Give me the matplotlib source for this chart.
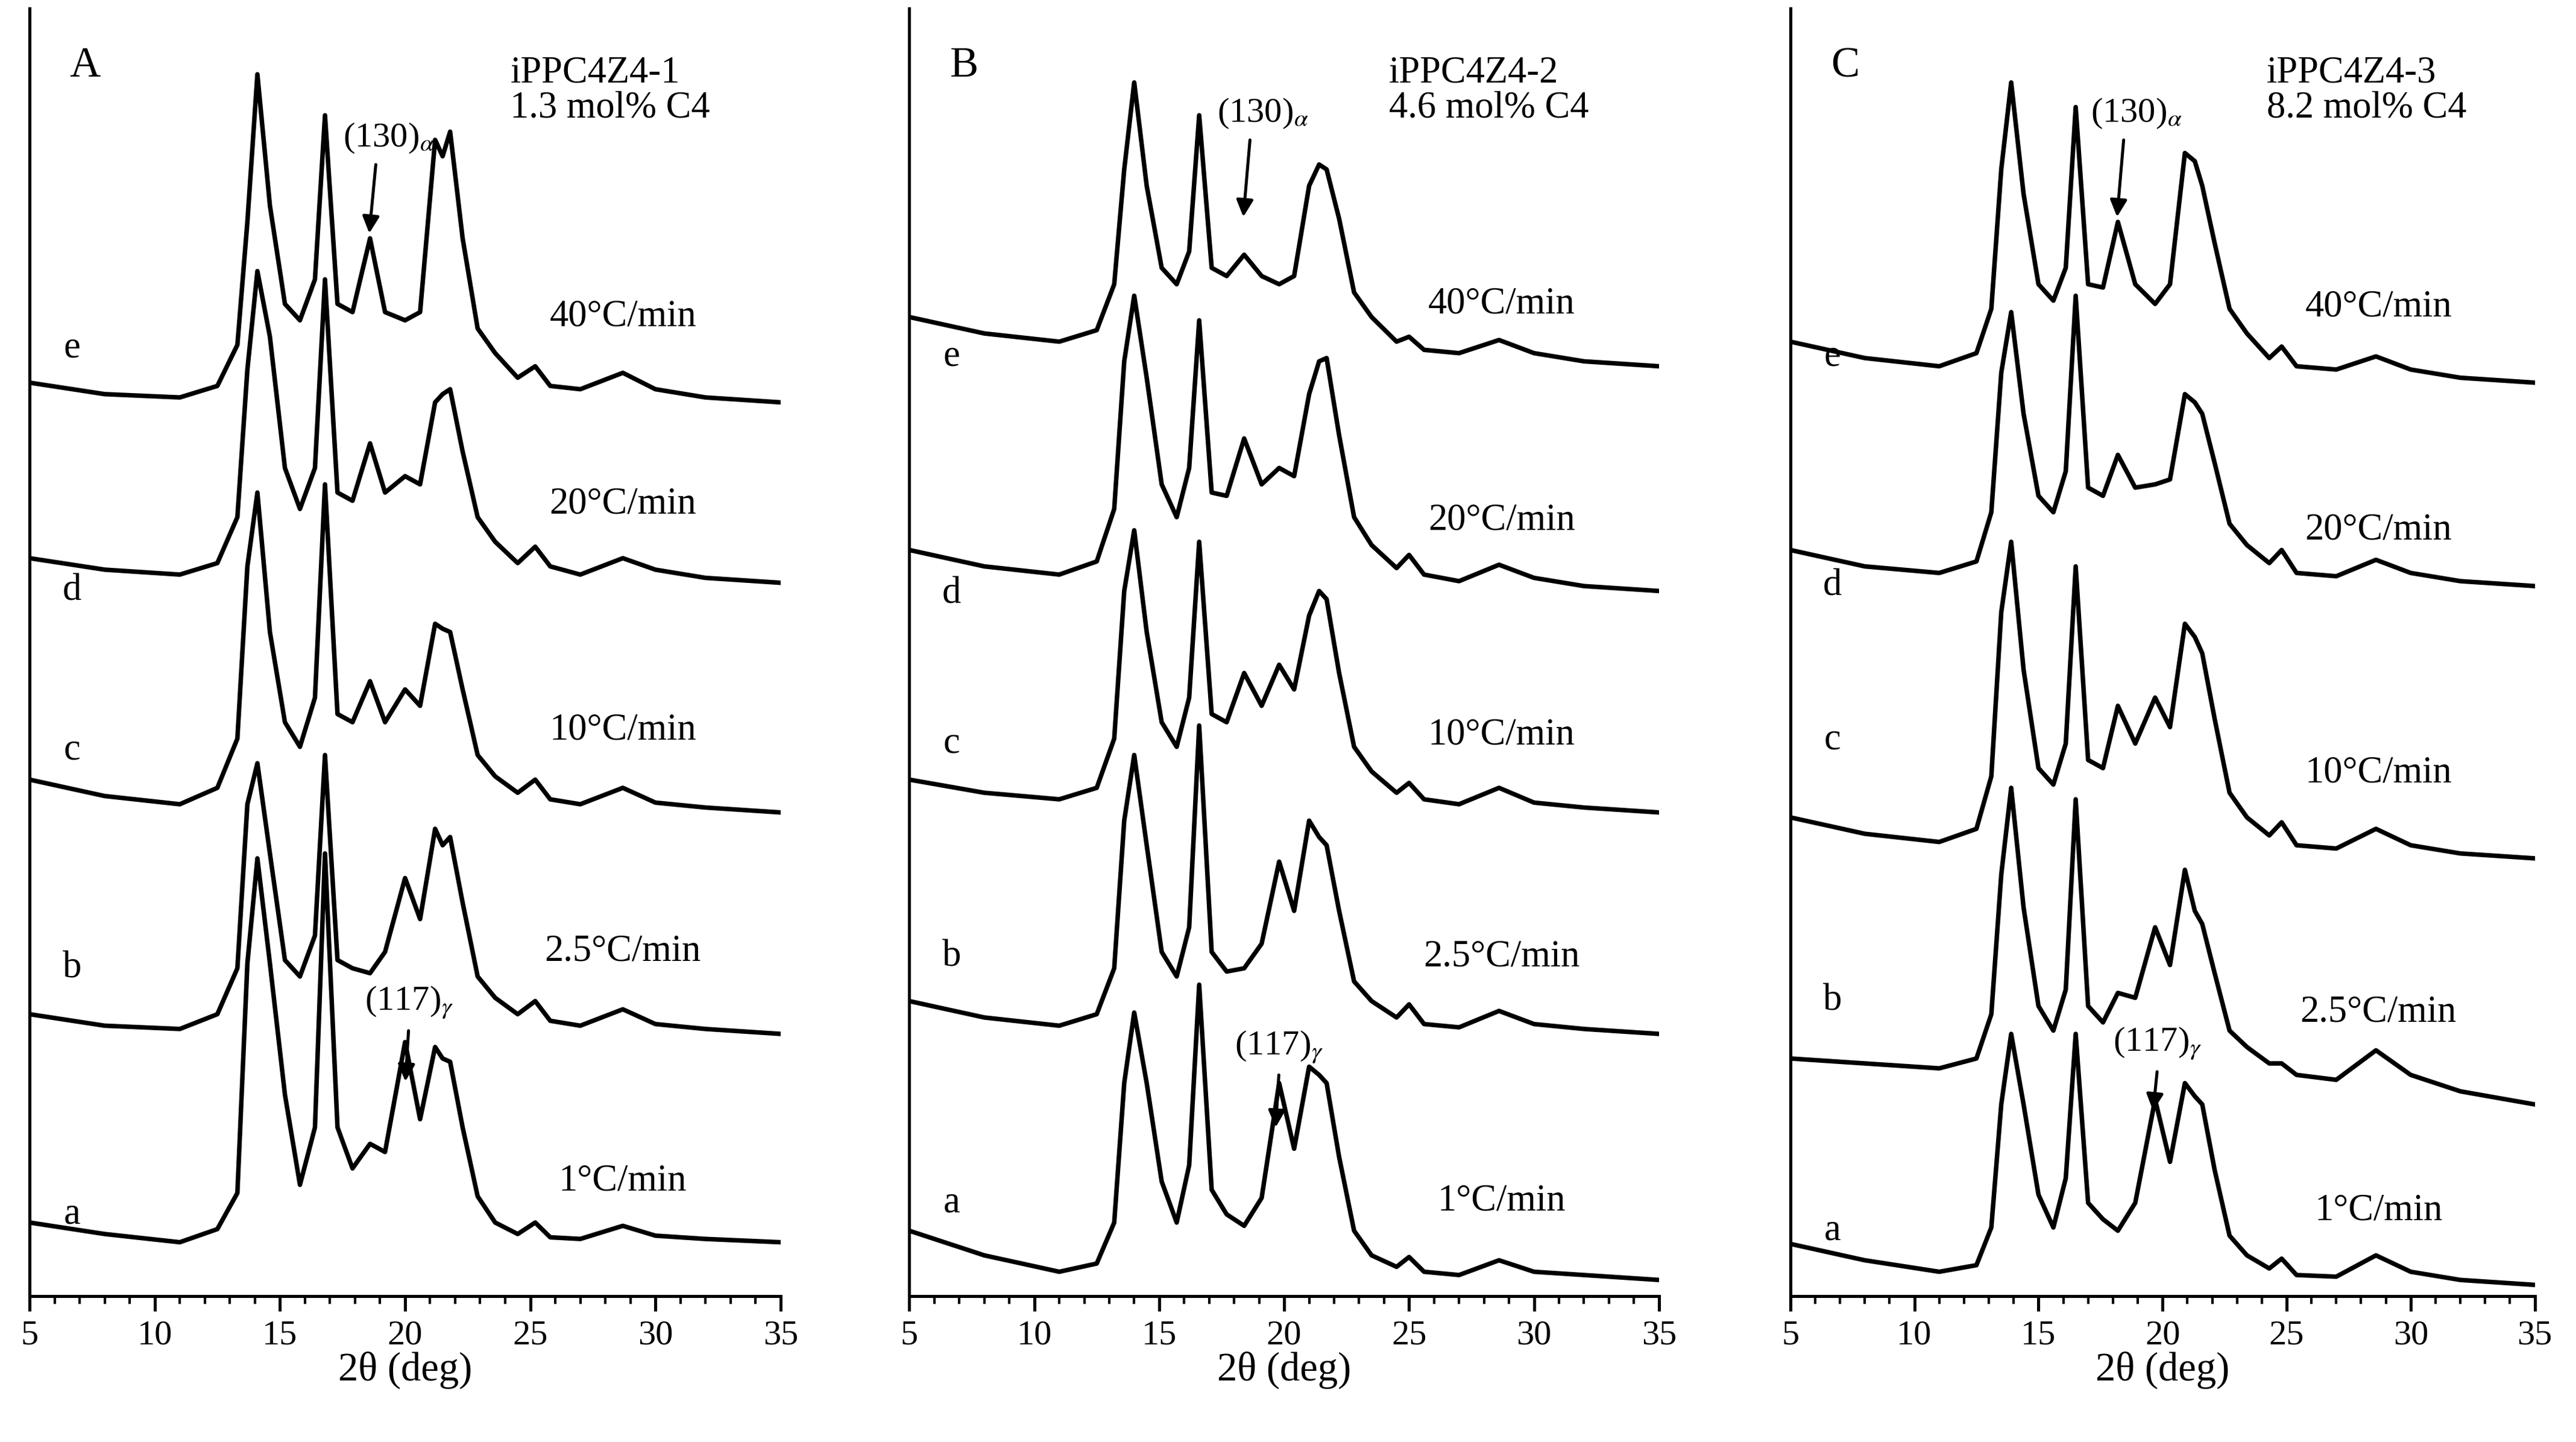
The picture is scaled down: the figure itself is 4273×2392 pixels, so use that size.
import matplotlib
matplotlib.use("Agg")
import matplotlib.pyplot as plt
from matplotlib.ticker import MultipleLocator

plt.rcParams['font.family'] = ['Liberation Serif', 'DejaVu Serif']
plt.rcParams['mathtext.fontset'] = 'stix'

# 2theta grids (deg) per panel
grid_A = [5,8,11,12.5,13.3,13.7,14.1,14.6,15.2,15.8,16.4,16.8,17.3,17.9,18.6,19.2,20.0,20.6,21.2,21.5,21.8,22.3,22.9,23.6,24.5,25.2,25.8,27,28.7,30,32,35]
grid_B = [5,8,11,12.5,13.2,13.6,14.0,14.5,15.1,15.7,16.2,16.6,17.1,17.7,18.4,19.1,19.8,20.4,21.0,21.4,21.7,22.2,22.8,23.5,24.5,25.0,25.6,27,28.6,30,32,35]
grid_C = [5,8,11,12.5,13.1,13.5,13.9,14.4,15.0,15.6,16.1,16.5,17.0,17.6,18.2,18.9,19.7,20.3,20.9,21.3,21.6,22.1,22.7,23.4,24.3,24.8,25.4,27,28.6,30,32,35]

# baselines (intensity offsets) for curves a..e
base_A = [33, 160, 295, 435, 545]
base_B = [10, 160, 295, 430, 567]
base_C = [7, 117, 267, 433, 557]

# relative intensities (a.u.) for curves a..e
A_a = [12,5,0,8,30,170,234,170,90,35,70,237,70,45,60,55,122,75,119,112,110,70,28,12,5,12,3,2,10,4,2,0]
A_b = [12,5,3,12,40,140,165,110,45,35,60,170,45,40,37,50,95,70,125,115,120,80,35,22,12,20,8,5,15,6,3,0]
A_c = [20,10,5,15,45,150,195,110,55,40,70,200,60,55,80,55,75,65,115,112,110,75,35,22,12,20,8,5,15,6,3,0]
A_d = [15,8,5,12,40,130,190,150,70,45,70,185,55,50,85,55,65,60,110,115,118,80,40,25,12,22,10,5,15,8,3,0]
A_e = [12,5,3,10,35,110,200,120,60,50,75,175,60,55,100,55,50,55,160,150,165,100,45,30,15,22,10,8,18,8,3,0]

B_a = [30,15,5,10,35,120,163,120,60,35,70,180,55,40,33,50,120,80,130,125,120,75,30,15,8,14,5,3,12,5,3,0]
B_b = [20,10,5,12,40,130,170,115,50,35,65,188,50,38,40,55,105,75,130,120,115,75,32,20,10,18,6,4,14,6,3,0]
B_c = [20,12,8,15,45,135,172,110,55,40,70,165,60,55,85,65,90,75,120,135,130,85,40,25,12,18,8,5,15,6,3,0]
B_d = [25,15,10,18,50,140,180,130,65,45,75,165,60,58,93,65,75,70,120,140,142,95,45,28,14,22,10,6,16,8,3,0]
B_e = [30,20,15,22,50,120,173,110,60,50,70,153,60,55,68,55,50,55,110,123,120,90,45,30,15,18,10,8,16,8,3,0]

C_a = [25,15,8,12,35,110,153,110,55,35,65,153,50,40,33,50,113,75,123,115,110,70,30,18,10,16,6,5,18,8,3,0]
C_b = [28,25,22,28,55,140,193,120,60,45,70,186,60,50,68,65,108,85,143,118,110,80,45,35,25,25,18,15,33,18,8,0]
C_c = [25,15,10,18,50,150,193,115,55,45,70,178,60,55,93,70,98,80,143,135,125,85,40,25,14,22,8,6,18,8,3,0]
C_d = [22,12,8,15,45,130,167,105,55,45,70,177,60,55,80,60,62,65,117,112,105,75,38,25,14,22,8,6,16,8,3,0]
C_e = [25,15,10,18,45,130,183,115,60,50,70,168,60,58,98,60,48,60,140,135,120,85,45,30,15,22,10,8,16,8,3,0]

rates = ['1°C/min', '2.5°C/min', '10°C/min', '20°C/min', '40°C/min']
letters = ['a', 'b', 'c', 'd', 'e']

panels = [
    dict(pos=[0.0115, 0.101, 0.2915, 0.893], grid=grid_A, base=base_A, curves=[A_a, A_b, A_c, A_d, A_e],
         tag='A', title='iPPC4Z4-1\n1.3 mol% C4',
         rate_y=[70, 210, 345, 483, 597], let_y=[50, 200, 333, 430, 578],
         a130=((18.85, 693), (18.55, 645)), a117=((20.15, 165), (20.0, 128))),
    dict(pos=[0.353, 0.101, 0.291, 0.893], grid=grid_B, base=base_B, curves=[B_a, B_b, B_c, B_d, B_e],
         tag='B', title='iPPC4Z4-2\n4.6 mol% C4',
         rate_y=[58, 207, 342, 473, 605], let_y=[57, 207, 337, 428, 573],
         a130=((18.65, 708), (18.35, 655)), a117=((19.8, 138), (19.65, 100))),
    dict(pos=[0.695, 0.101, 0.289, 0.893], grid=grid_C, base=base_C, curves=[C_a, C_b, C_c, C_d, C_e],
         tag='C', title='iPPC4Z4-3\n8.2 mol% C4',
         rate_y=[52, 173, 319, 467, 603], let_y=[40, 180, 339, 433, 573],
         a130=((18.45, 708), (18.15, 655)), a117=((19.8, 140), (19.6, 110))),
]

fig = plt.figure(figsize=(4273/300, 2392/300), dpi=300)
fs = 15
for p in panels:
    ax = fig.add_axes(p['pos'])
    for rel, b in zip(p['curves'], p['base']):
        ax.plot(p['grid'], [v + b for v in rel], color='black', lw=1.8)
    ax.set_xlim(5, 35)
    ax.set_ylim(0, 785)
    ax.spines['top'].set_visible(False)
    ax.spines['right'].set_visible(False)
    ax.spines['left'].set_linewidth(1.2)
    ax.spines['bottom'].set_linewidth(1.2)
    ax.set_yticks([])
    ax.xaxis.set_major_locator(MultipleLocator(5))
    ax.xaxis.set_minor_locator(MultipleLocator(1))
    ax.tick_params(axis='x', which='major', direction='out', length=6, width=1.2, labelsize=fs - 1)
    ax.tick_params(axis='x', which='minor', direction='out', length=3, width=1.0)
    ax.set_xlabel('2θ (deg)', fontsize=fs + 1, labelpad=0)
    ax.text(7.2, 750, p['tag'], fontsize=fs + 2, ha='center', va='center')
    ax.text(24.2, 735, p['title'], fontsize=fs, ha='left', va='center', linespacing=1.0)
    for r, ry in zip(rates, p['rate_y']):
        ax.text(28.7, ry, r, fontsize=fs, ha='center', va='center')
    for l, ly in zip(letters, p['let_y']):
        ax.text(6.7, ly, l, fontsize=fs, ha='center', va='center')
    (tx, ty), (hx, hy) = p['a130']
    ax.annotate('', xy=(hx, hy), xytext=(tx, ty),
                arrowprops=dict(arrowstyle='-|>', color='black', lw=1.2, mutation_scale=14))
    ax.text(tx + 0.5, ty + 3, '(130)$_\\alpha$', fontsize=fs - 1, ha='center', va='bottom')
    (tx, ty), (hx, hy) = p['a117']
    ax.annotate('', xy=(hx, hy), xytext=(tx, ty),
                arrowprops=dict(arrowstyle='-|>', color='black', lw=1.2, mutation_scale=14))
    ax.text(tx, ty + 3, '(117)$_\\gamma$', fontsize=fs - 1, ha='center', va='bottom')

fig.savefig('out.png', dpi=300)
